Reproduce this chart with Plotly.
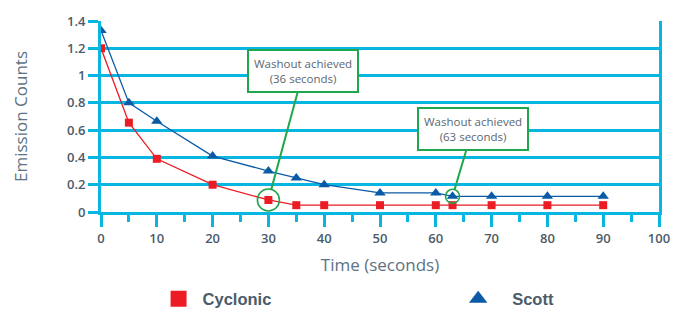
import plotly.graph_objects as go

time_s = [0, 5, 10, 20, 30, 35, 40, 50, 60, 63, 70, 80, 90]
cyclonic = [1.2, 0.655, 0.39, 0.2, 0.088, 0.05, 0.05, 0.05, 0.05, 0.05, 0.05, 0.05, 0.05]
scott = [1.33, 0.8, 0.665, 0.41, 0.3, 0.25, 0.2, 0.14, 0.14, 0.115, 0.115, 0.115, 0.115]

y_ticks = [0, 0.2, 0.4, 0.6, 0.8, 1, 1.2, 1.4]
y_labels = ["0", "0.2", "0.4", "0.6", "0.8", "1", "1.2", "1.4"]

washout_cyc_idx = 4   # 30 s on Cyclonic
washout_scott_idx = 9  # 63 s on Scott

CYAN = "#08b6e2"
GREEN = "#1fa74e"
TXT = "#4b5b69"
RED = "#ec1c24"
BLUE = "#0b5aa6"

fig = go.Figure()
fig.add_trace(go.Scatter(
    x=time_s, y=cyclonic, name="Cyclonic", mode="lines+markers", showlegend=False,
    line=dict(color=RED, width=1.3),
    marker=dict(symbol="square", size=8, color=RED),
))
fig.add_trace(go.Scatter(
    x=time_s, y=scott, name="Scott", mode="lines+markers", showlegend=False,
    line=dict(color=BLUE, width=1.3),
    marker=dict(symbol="triangle-up", size=10, color=BLUE),
))
# legend entries (markers only, as in the reference legend)
fig.add_trace(go.Scatter(x=[None], y=[None], name="Cyclonic", mode="markers", legend="legend",
                         marker=dict(symbol="square", size=18, color=RED)))
fig.add_trace(go.Scatter(x=[None], y=[None], name="Scott", mode="markers", legend="legend2",
                         marker=dict(symbol="triangle-up", size=22, color=BLUE)))

def washout(xv, yv, ax, ay, r, text):
    fig.add_shape(type="circle", xref="x", yref="y", xsizemode="pixel", ysizemode="pixel",
                  xanchor=xv, yanchor=yv, x0=-r, x1=r, y0=-r, y1=r,
                  line=dict(color=GREEN, width=1.6))
    fig.add_annotation(x=xv, y=yv, xref="x", yref="y", ax=ax, ay=ay, axref="pixel", ayref="pixel",
                       text=text, showarrow=True, arrowhead=0, arrowwidth=2, arrowcolor=GREEN,
                       standoff=r, bordercolor=GREEN, borderwidth=2, borderpad=5, bgcolor="white",
                       font=dict(family="Open Sans", size=11.5, color="#5b6671"))

washout(time_s[washout_cyc_idx], cyclonic[washout_cyc_idx], 35, -129, 11,
        "Washout achieved<br>(36 seconds)")
washout(time_s[washout_scott_idx], scott[washout_scott_idx], 20, -67, 7,
        "Washout achieved<br>(63 seconds)")

legend_font = dict(family="Liberation Sans", size=16.5, color=TXT, weight="bold")

fig.update_layout(
    width=690, height=331,
    margin=dict(l=101, r=31, t=14, b=119),
    plot_bgcolor="white", paper_bgcolor="white",
    showlegend=True,
    legend=dict(x=0.096, xanchor="left", y=-0.455, yanchor="middle", font=legend_font,
                itemwidth=38, bgcolor="rgba(0,0,0,0)"),
    legend2=dict(x=0.615, xanchor="left", y=-0.455, yanchor="middle", font=legend_font,
                 itemwidth=58, bgcolor="rgba(0,0,0,0)"),
    xaxis=dict(range=[0, 100], dtick=10, tick0=0, showgrid=False, zeroline=False,
               showline=True, linecolor=CYAN, linewidth=3,
               ticks="outside", ticklen=12, tickwidth=3, tickcolor=CYAN,
               minor=dict(dtick=5, ticks="outside", ticklen=7, tickwidth=3, tickcolor=CYAN),
               tickfont=dict(family="Open Sans", size=13, color=TXT, weight=600),
               title=dict(text="Time (seconds)", standoff=14,
                          font=dict(family="Open Sans", size=17, color="#5d7282"))),
    yaxis=dict(range=[0, 1.4], tickvals=y_ticks, ticktext=y_labels,
               showgrid=True, gridcolor=CYAN, gridwidth=3, zeroline=False,
               showline=True, mirror=True, linecolor=CYAN, linewidth=3,
               ticks="outside", ticklen=10, tickwidth=3, tickcolor=CYAN,
               tickfont=dict(family="Open Sans", size=13, color=TXT, weight=600),
               title=dict(text="Emission Counts", standoff=36,
                          font=dict(family="Open Sans", size=17, color="#5d7282"))),
)

fig.write_html("out.html")
